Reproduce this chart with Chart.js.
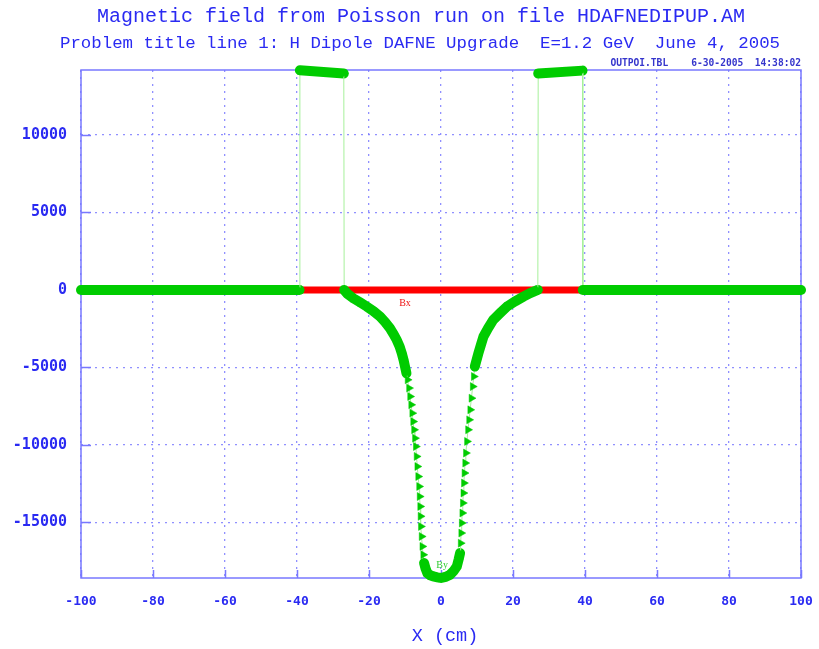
<!DOCTYPE html>
<html>
<head>
<meta charset="utf-8">
<script src="https://cdn.jsdelivr.net/npm/chart.js@4.4.1/dist/chart.umd.min.js"></script>
<style>
  html, body { margin: 0; padding: 0; background: #ffffff; }
  #wrap { width: 819px; height: 649px; position: relative; }
</style>
</head>
<body>
<div id="wrap"><canvas id="c" width="819" height="649"></canvas></div>
<script>
// ---------- data ----------
const titleLine1 = "Magnetic field from Poisson run on file HDAFNEDIPUP.AM";
const titleLine2 = "Problem title line 1: H Dipole DAFNE Upgrade  E=1.2 GeV  June 4, 2005";
const fileLine   = "OUTPOI.TBL    6-30-2005  14:38:02";
const xAxisTitle = "X (cm)";

const xTicks = [-100, -80, -60, -40, -20, 0, 20, 40, 60, 80, 100];
const yTicks = [-15000, -10000, -5000, 0, 5000, 10000];

// By (green) : x in cm, field in gauss
const xBy = [
  -100, -39.3, -39.2, -27.0, -26.9,
  -26.0, -24.4, -22.5, -20.6, -18.7, -16.9, -15.5, -14.2, -13.2, -12.3,
  -11.5, -10.9, -10.4, -10.0, -9.6, -9.3, -8.9, -8.6, -8.3, -8.0,
  -7.75, -7.5, -7.25, -7.0, -6.8, -6.6, -6.35, -6.1, -5.95, -5.8,
  -5.7, -5.6, -5.4, -5.2, -4.95, -4.7, -4.3, -3.8, -3.0, -2.1,
  -1.0, 0, 1.2, 2.5, 3.5, 4.4, 4.9, 5.3, 5.45, 5.6,
  5.75, 5.9, 6.05, 6.2, 6.35, 6.5, 6.7, 6.9, 7.2, 7.5,
  7.8, 8.1, 8.45, 8.8, 9.1, 9.4, 9.9, 10.4, 11.1, 11.8,
  13.1, 14.5, 16.4, 18.3, 20.6, 22.9, 24.8, 26.9,
  27.0, 39.3, 39.4, 100
];
const yBy = [
  0, 0, 14180, 13980, 0,
  -250, -535, -800, -1077, -1380, -1723, -2080, -2470, -2850, -3226,
  -3650, -4084, -4520, -4948, -5380, -5806, -6340, -6883, -7420, -7955,
  -8500, -9032, -9570, -10110, -10750, -11400, -12050, -12690, -13340, -13980,
  -14620, -15270, -15920, -16560, -17100, -17630, -17980, -18280, -18420, -18500,
  -18560, -18600, -18530, -18390, -18150, -17850, -17400, -16990, -16350, -15700,
  -15050, -14406, -13760, -13116, -12470, -11826, -11180, -10535, -9780, -9032,
  -8390, -7742, -6990, -6240, -5590, -4948, -4510, -4084, -3540, -3010,
  -2460, -1935, -1500, -1077, -740, -430, -200, 0,
  13980, 14160, 0, 0
];

// Bx (red)
const xBx = [-100, 100];
const yBx = [0, 0];

// text labels placed on the curves (data coordinates)
const curveLabels = [
  { text: "Bx", x: -10.0, y: -850,   color: "#ee1111" },
  { text: "By", x: 0.3,   y: -17780, color: "#33cc33" }
];

// ---------- styling ----------
const BLUE_TXT = "#2a2af2";
const AXIS_BLUE = "#7878ff";
const GRID_BLUE = "rgba(125,125,255,0.85)";
const GREEN = "#00cc00";
const LIGHT_GREEN = "#a6f09a";

const byPoints = xBy.map((x, i) => ({ x: x, y: yBy[i] }));
const bxPoints = xBx.map((x, i) => ({ x: x, y: yBx[i] }));

function isBand(ctx) {
  const a = ctx.p0.parsed, b = ctx.p1.parsed;
  const dx = Math.abs(b.x - a.x), dy = Math.abs(b.y - a.y);
  if (dx < 1e-9) return false;
  return dy / dx < 1300;
}

const deco = {
  id: 'deco',
  beforeDatasetsDraw(chart) {
    const { ctx, chartArea: a, scales } = chart;
    ctx.save();
    ctx.strokeStyle = AXIS_BLUE;
    ctx.lineWidth = 1.5;
    ctx.strokeRect(a.left, a.top, a.right - a.left, a.bottom - a.top);
    ctx.beginPath();
    yTicks.forEach(v => {
      const py = Math.round(scales.y.getPixelForValue(v)) + 0.5;
      ctx.moveTo(a.left, py); ctx.lineTo(a.left + 10, py);
    });
    xTicks.forEach(v => {
      const px = Math.round(scales.x.getPixelForValue(v)) + 0.5;
      ctx.moveTo(px, a.bottom); ctx.lineTo(px, a.bottom - 8);
    });
    ctx.stroke();
    ctx.restore();
  },
  afterDraw(chart) {
    const { ctx, chartArea: a, scales } = chart;
    ctx.save();
    ctx.fillStyle = BLUE_TXT;
    ctx.textAlign = 'center';
    ctx.textBaseline = 'alphabetic';
    ctx.font = '20px "Liberation Mono", "DejaVu Sans Mono", monospace';
    ctx.fillText(titleLine1, 421, 22);
    ctx.font = '17.4px "Liberation Mono", "DejaVu Sans Mono", monospace';
    ctx.fillText(titleLine2, 420, 48);
    ctx.font = '18.5px "Liberation Mono", "DejaVu Sans Mono", monospace';
    ctx.fillText(xAxisTitle, 445, 641);
    ctx.font = 'bold 9.6px "DejaVu Sans Mono", monospace';
    ctx.textAlign = 'right';
    ctx.fillStyle = '#3535cc';
    ctx.fillText(fileLine, a.right, 66);
    ctx.textAlign = 'center';
    ctx.textBaseline = 'middle';
    ctx.font = '10px "Liberation Serif", serif';
    curveLabels.forEach(l => {
      ctx.fillStyle = l.color;
      ctx.fillText(l.text, scales.x.getPixelForValue(l.x), scales.y.getPixelForValue(l.y));
    });
    ctx.restore();
  }
};

new Chart(document.getElementById('c'), {
  type: 'line',
  data: {
    datasets: [
      {
        label: 'By',
        data: byPoints,
        order: 0,
        clip: false,
        borderColor: LIGHT_GREEN,
        borderWidth: 1,
        borderCapStyle: 'round',
        tension: 0,
        pointStyle: 'triangle',
        rotation: 90,
        pointRadius: 4.6,
        pointBackgroundColor: GREEN,
        pointBorderColor: GREEN,
        pointBorderWidth: 0.5,
        segment: {
          borderWidth: ctx => isBand(ctx) ? 10 : 1,
          borderColor: ctx => isBand(ctx) ? GREEN : LIGHT_GREEN
        }
      },
      {
        label: 'Bx',
        data: bxPoints,
        order: 1,
        clip: false,
        borderColor: '#ff0000',
        borderWidth: 7,
        pointRadius: 0,
        tension: 0
      }
    ]
  },
  options: {
    responsive: false,
    animation: false,
    layout: { padding: { top: 70, right: 18, left: 0, bottom: 0 } },
    plugins: { legend: { display: false }, tooltip: { enabled: false }, title: { display: false } },
    scales: {
      x: {
        type: 'linear',
        min: -100, max: 100,
        afterBuildTicks: s => { s.ticks = xTicks.map(v => ({ value: v })); },
        afterFit: s => { s.height = 71; s.paddingLeft = 0; s.paddingRight = 0; },
        ticks: {
          color: BLUE_TXT,
          font: { family: '"DejaVu Sans Mono", monospace', size: 13, weight: 'bold' },
          padding: 16,
          maxRotation: 0,
          autoSkip: false,
          callback: v => String(v)
        },
        grid: { color: GRID_BLUE, lineWidth: 1.3, drawTicks: false },
        border: { display: false, dash: [2, 5] }
      },
      y: {
        type: 'linear',
        min: -18600, max: 14200,
        afterBuildTicks: s => { s.ticks = yTicks.map(v => ({ value: v })); },
        afterFit: s => { s.width = 81; s.paddingTop = 0; s.paddingBottom = 0; },
        ticks: {
          color: BLUE_TXT,
          font: { family: '"DejaVu Sans Mono", monospace', size: 15, weight: 'bold' },
          padding: 14,
          autoSkip: false,
          callback: v => String(v)
        },
        grid: { color: GRID_BLUE, lineWidth: 1.3, drawTicks: false },
        border: { display: false, dash: [2, 5] }
      }
    }
  },
  plugins: [deco]
});
</script>
</body>
</html>
